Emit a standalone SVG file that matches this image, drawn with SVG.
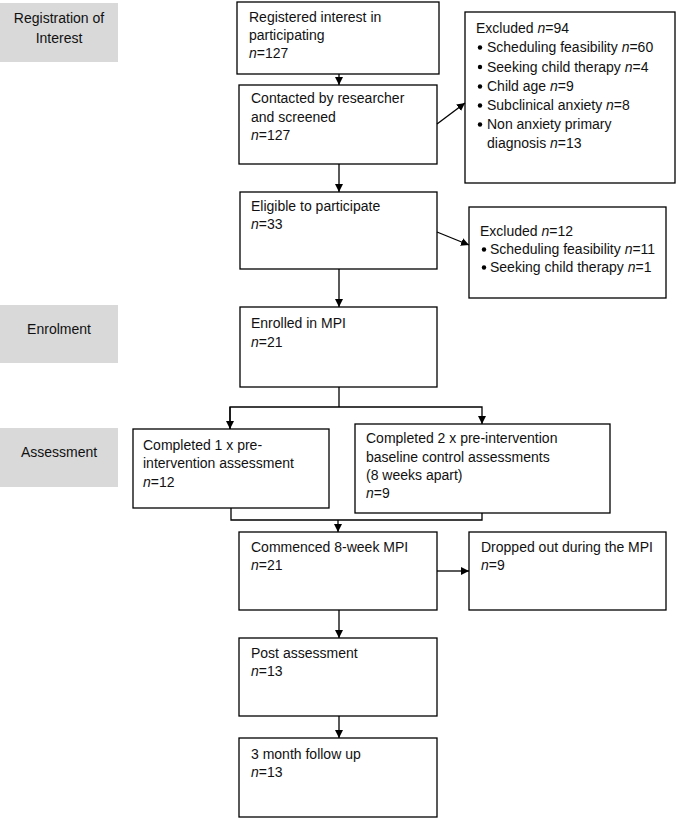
<svg xmlns="http://www.w3.org/2000/svg" width="678" height="818" viewBox="0 0 678 818">
<defs>
<marker id="ah" viewBox="0 0 10 10" refX="10" refY="5" markerWidth="8" markerHeight="8" markerUnits="userSpaceOnUse" orient="auto">
<path d="M0,0 L10,5 L0,10 Z" fill="#000"/>
</marker>
<style>
text{font-family:"Liberation Sans",Arial,sans-serif;font-size:14px;fill:#111}
.i{font-style:italic}
.g{fill:#d9d9d9;stroke:none}
.b{fill:#fff;stroke:#000;stroke-width:1.3}
.c{fill:none;stroke:#000;stroke-width:1.3}
.m{text-anchor:middle}
</style>
</defs>
<rect width="678" height="818" fill="#fff"/>
<g id="stage-registration">
<rect class="g" x="0" y="3" width="118" height="59"/>
<text class="m" x="59" y="23">Registration of</text>
<text class="m" x="59" y="43">Interest</text>
</g>
<g id="stage-enrolment">
<rect class="g" x="0" y="305" width="118" height="58"/>
<text class="m" x="59" y="334">Enrolment</text>
</g>
<g id="stage-assessment">
<rect class="g" x="0" y="428" width="118" height="59"/>
<text class="m" x="59" y="457">Assessment</text>
</g>
<g id="registered">
<rect class="b" x="237" y="2" width="202" height="72"/>
<text x="249" y="22">Registered interest in</text>
<text x="249" y="40">participating</text>
<text x="249" y="58"><tspan class="i">n</tspan>=127</text>
</g>
<g id="contacted">
<rect class="b" x="239" y="85" width="198" height="79"/>
<text x="251" y="103">Contacted by researcher</text>
<text x="251" y="122">and screened</text>
<text x="251" y="140"><tspan class="i">n</tspan>=127</text>
</g>
<g id="excluded1">
<rect class="b" x="465" y="12" width="210" height="171"/>
<text x="476" y="33">Excluded <tspan class="i">n</tspan>=94</text>
<circle cx="480" cy="47.5" r="2.2"/>
<text x="487" y="52">Scheduling feasibility <tspan class="i">n</tspan>=60</text>
<circle cx="480" cy="67" r="2.2"/>
<text x="487" y="72">Seeking child therapy <tspan class="i">n</tspan>=4</text>
<circle cx="480" cy="86.5" r="2.2"/>
<text x="487" y="91">Child age <tspan class="i">n</tspan>=9</text>
<circle cx="480" cy="105.5" r="2.2"/>
<text x="487" y="110">Subclinical anxiety <tspan class="i">n</tspan>=8</text>
<circle cx="480" cy="124.5" r="2.2"/>
<text x="487" y="129">Non anxiety primary</text>
<text x="487" y="148">diagnosis <tspan class="i">n</tspan>=13</text>
</g>
<g id="eligible">
<rect class="b" x="240" y="192" width="197" height="77"/>
<text x="251" y="211">Eligible to participate</text>
<text x="251" y="229"><tspan class="i">n</tspan>=33</text>
</g>
<g id="excluded2">
<rect class="b" x="469" y="207" width="197" height="91"/>
<text x="480" y="236">Excluded <tspan class="i">n</tspan>=12</text>
<circle cx="484" cy="249.5" r="2.2"/>
<text x="490" y="254">Scheduling feasibility <tspan class="i">n</tspan>=11</text>
<circle cx="484" cy="267.5" r="2.2"/>
<text x="490" y="272">Seeking child therapy <tspan class="i">n</tspan>=1</text>
</g>
<g id="enrolled">
<rect class="b" x="240" y="307" width="197" height="80"/>
<text x="251" y="328">Enrolled in MPI</text>
<text x="251" y="347"><tspan class="i">n</tspan>=21</text>
</g>
<g id="pre1">
<rect class="b" x="133" y="429" width="196" height="79"/>
<text x="143" y="450">Completed 1 x pre-</text>
<text x="143" y="468">intervention assessment</text>
<text x="143" y="487"><tspan class="i">n</tspan>=12</text>
</g>
<g id="pre2">
<rect class="b" x="355" y="424" width="255" height="89"/>
<text x="366" y="443">Completed 2 x pre-intervention</text>
<text x="366" y="462">baseline control assessments</text>
<text x="366" y="480">(8 weeks apart)</text>
<text x="366" y="498"><tspan class="i">n</tspan>=9</text>
</g>
<g id="commenced">
<rect class="b" x="239" y="532" width="198" height="78"/>
<text x="251" y="552">Commenced 8-week MPI</text>
<text x="251" y="570"><tspan class="i">n</tspan>=21</text>
</g>
<g id="dropped">
<rect class="b" x="469" y="532" width="197" height="78"/>
<text x="481" y="552">Dropped out during the MPI</text>
<text x="481" y="570"><tspan class="i">n</tspan>=9</text>
</g>
<g id="post">
<rect class="b" x="239" y="638" width="198" height="78"/>
<text x="251" y="658">Post assessment</text>
<text x="251" y="676"><tspan class="i">n</tspan>=13</text>
</g>
<g id="followup">
<rect class="b" x="239" y="738" width="198" height="79"/>
<text x="251" y="759">3 month follow up</text>
<text x="251" y="777"><tspan class="i">n</tspan>=13</text>
</g>
<g id="connectors">
<line class="c" x1="339" y1="74" x2="339" y2="85" marker-end="url(#ah)"/>
<line class="c" x1="437" y1="124" x2="465" y2="103" marker-end="url(#ah)"/>
<line class="c" x1="339" y1="164" x2="339" y2="192" marker-end="url(#ah)"/>
<line class="c" x1="437" y1="232" x2="469" y2="245" marker-end="url(#ah)"/>
<line class="c" x1="339" y1="269" x2="339" y2="307" marker-end="url(#ah)"/>
<polyline class="c" points="339,387 339,407"/>
<polyline class="c" points="230,429 230,407 482,407 482,424" marker-end="url(#ah)"/>
<line class="c" x1="230" y1="407" x2="230" y2="429" marker-end="url(#ah)"/>
<polyline class="c" points="231,508 231,520 482,520 482,513"/>
<line class="c" x1="338" y1="520" x2="338" y2="532" marker-end="url(#ah)"/>
<line class="c" x1="437" y1="571" x2="469" y2="571" marker-end="url(#ah)"/>
<line class="c" x1="339" y1="610" x2="339" y2="638" marker-end="url(#ah)"/>
<line class="c" x1="339" y1="716" x2="339" y2="738" marker-end="url(#ah)"/>
</g>
</svg>
